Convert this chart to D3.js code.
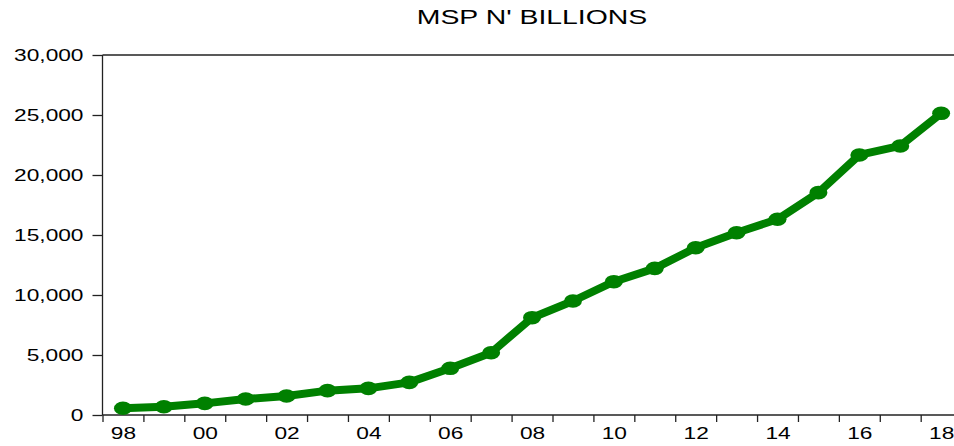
<!DOCTYPE html>
<html>
<head>
<meta charset="utf-8">
<script src="https://cdn.jsdelivr.net/npm/d3@7"></script>
<style>
    body { margin: 0; background: #fff; }
    svg { display: block; }
    text { font-family: 'Liberation Sans', Arial, sans-serif; fill: #000; }
</style>
</head>
<body>
<svg width="954" height="446"></svg>
<script>
const TITLE = "MSP N' BILLIONS";
const years = d3.range(1998, 2019);
// MSP values (N' billions)
const msp = [560, 690, 970, 1330, 1580, 2030, 2220, 2720, 3890, 5190,
    8110, 9500, 11110, 12220, 13940, 15190, 16310, 18530, 21670, 22420, 25140];
const yTicks = [0, 5000, 10000, 15000, 20000, 25000, 30000];
const xLabelYears = [1998, 2000, 2002, 2004, 2006, 2008, 2010, 2012, 2014, 2016, 2018];

const WIDTH = 954;
const LEFT = 102.5;
const TOP = 55;
const BOTTOM = 415;
const STRETCH = 1.42; // text in the picture is drawn wide

const svg = d3.select('svg');

const x = d3.scaleLinear().domain([1997.5, 2018.5]).range([LEFT, 961.6]);
const y = d3.scaleLinear().domain([0, 30000]).range([BOTTOM, TOP]);

// title
svg.append('text')
    .attr('transform', `translate(532,24) scale(${STRETCH},1)`)
    .attr('text-anchor', 'middle')
    .style('font-size', '20px')
    .text(TITLE);

// frame: top, left, bottom
const frame = svg.append('g').attr('stroke', '#222').attr('stroke-width', 1.3);
frame.append('line').attr('x1', LEFT).attr('x2', WIDTH).attr('y1', TOP).attr('y2', TOP);
frame.append('line').attr('x1', LEFT).attr('x2', LEFT).attr('y1', TOP).attr('y2', BOTTOM);
frame.append('line').attr('x1', LEFT).attr('x2', WIDTH).attr('y1', BOTTOM).attr('y2', BOTTOM);

// y axis
const yAxis = svg.append('g')
    .attr('transform', `translate(${LEFT},0)`)
    .call(d3.axisLeft(y).tickValues(yTicks).tickFormat(d3.format(',')).tickSize(10).tickSizeOuter(0));
yAxis.select('.domain').remove();
yAxis.selectAll('line').attr('stroke', '#222').attr('stroke-width', 1.3);
yAxis.selectAll('text')
    .attr('x', null)
    .attr('dy', null)
    .attr('transform', `translate(-19,5.5) scale(${STRETCH},1)`)
    .style('font-size', '16px');

// x axis: ticks on year boundaries, labels in the middle of each year
const xTickAxis = svg.append('g')
    .attr('transform', `translate(0,${BOTTOM})`)
    .call(d3.axisBottom(x).tickValues(d3.range(1997.5, 2018, 1)).tickFormat('').tickSize(7).tickSizeOuter(0));
xTickAxis.select('.domain').remove();
xTickAxis.selectAll('line').attr('stroke', '#222').attr('stroke-width', 1.3);

const xLabelAxis = svg.append('g')
    .attr('transform', `translate(0,${BOTTOM})`)
    .call(d3.axisBottom(x).tickValues(xLabelYears).tickFormat((d) => String(d).slice(2)).tickSize(0));
xLabelAxis.select('.domain').remove();
xLabelAxis.selectAll('text')
    .attr('y', null)
    .attr('dy', null)
    .attr('transform', `translate(0,23.5) scale(${STRETCH},1)`)
    .style('font-size', '16px');

// series line
const line = d3.line()
    .x((d, i) => x(years[i]))
    .y((d) => y(d));

svg.append('path')
    .datum(msp)
    .attr('fill', 'none')
    .attr('stroke', '#008000')
    .attr('stroke-width', 8)
    .attr('stroke-linejoin', 'round')
    .attr('d', line);

svg.append('g')
    .selectAll('ellipse')
    .data(msp)
    .join('ellipse')
    .attr('cx', (d, i) => x(years[i]))
    .attr('cy', (d) => y(d))
    .attr('rx', 9)
    .attr('ry', 6.8)
    .attr('fill', '#008000');
</script>
</body>
</html>
